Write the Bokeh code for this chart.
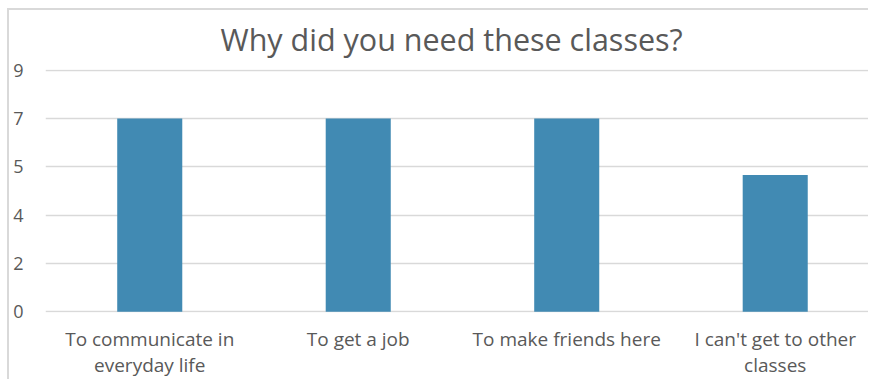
from bokeh.plotting import figure
from bokeh.models import Range1d, FixedTicker, ColumnDataSource
from bokeh.embed import file_html
from bokeh.resources import INLINE

categories = ["To communicate in\neveryday life", "To get a job", "To make friends here", "I can't get to other\nclasses"]
values = [7.2, 7.2, 7.2, 5.1]
y_ticks = [0, 1.8, 3.6, 5.4, 7.2, 9]
y_tick_labels = ["0", "2", "4", "5", "7", "9"]
title_text = "Why did you need these classes?"

xpos = [i + 0.5 for i in range(len(categories))]
src = ColumnDataSource(dict(x=xpos, top=values))

p = figure(width=861, height=371, output_backend="svg", toolbar_location=None,
           x_range=Range1d(0, 3.957), y_range=Range1d(-0.03, 9.03),
           min_border_left=36, min_border_right=0, min_border_top=59, min_border_bottom=69,
           title=title_text,
           styles={"margin-left": "7px", "margin-top": "8px",
                   "border-left": "2px solid #d9d9d9", "border-top": "2px solid #d9d9d9"})

p.vbar(x="x", top="top", width=0.312, source=src, fill_color="#418AB3", line_color=None)

p.title.text_font = "Open Sans"
p.title.text_font_size = "30.5px"
p.title.text_font_style = "normal"
p.title.text_color = "#595959"
p.title.align = "left"
p.title.vertical_align = "top"
p.title.standoff = 15
p.title.offset = 175

p.outline_line_color = None
p.background_fill_color = "white"
p.border_fill_color = "white"

p.xgrid.grid_line_color = None
p.ygrid.grid_line_color = "#d9d9d9"
p.ygrid.grid_line_width = 1.5
p.ygrid.ticker = FixedTicker(ticks=y_ticks)

p.yaxis.ticker = FixedTicker(ticks=y_ticks)
p.yaxis.major_label_overrides = {t: l for t, l in zip(y_ticks, y_tick_labels)}
p.yaxis.axis_line_color = None
p.yaxis.major_tick_line_color = None
p.yaxis.minor_tick_line_color = None
p.yaxis.major_label_text_font = "Open Sans"
p.yaxis.major_label_text_font_size = "18px"
p.yaxis.major_label_text_color = "#595959"
p.yaxis.major_label_standoff = 16

p.xaxis.ticker = FixedTicker(ticks=xpos)
p.xaxis.major_label_overrides = {x: c for x, c in zip(xpos, categories)}
p.xaxis.axis_line_color = None
p.xaxis.major_tick_line_color = None
p.xaxis.minor_tick_line_color = None
p.xaxis.major_label_text_font = "Open Sans"
p.xaxis.major_label_text_font_size = "19px"
p.xaxis.major_label_text_color = "#595959"
p.xaxis.major_label_text_align = "center"
p.xaxis.major_label_text_line_height = 1.0
p.xaxis.major_label_standoff = 7

open("out.html", "w").write(file_html(p, INLINE))
